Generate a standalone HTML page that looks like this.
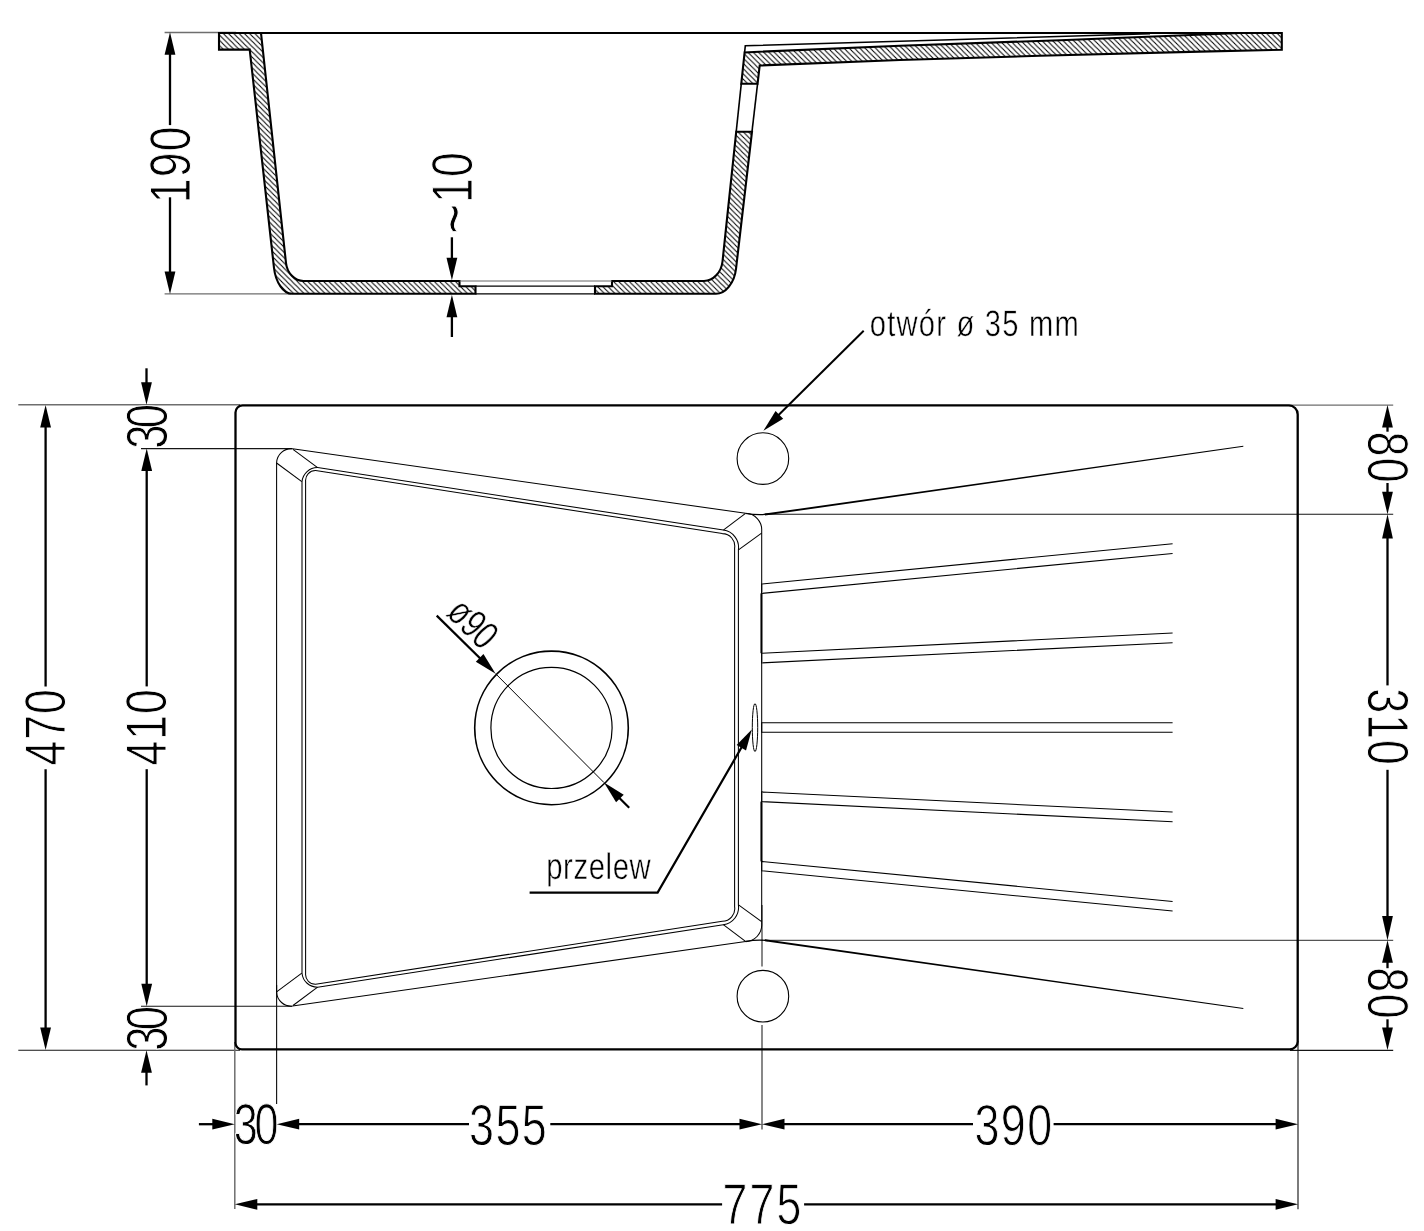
<!DOCTYPE html>
<html lang="pl">
<head>
<meta charset="utf-8">
<title>Rysunek techniczny zlewozmywaka</title>
<style>
html,body{margin:0;padding:0;background:#fff;}
body{width:1424px;height:1231px;overflow:hidden;}
svg{display:block;filter:grayscale(1);}
text{text-rendering:geometricPrecision;}
text.d{font-family:"Liberation Sans",sans-serif;font-kerning:none;fill:#000;stroke:#fff;stroke-width:0.95px;stroke-linejoin:round;}
text.s{font-family:"Liberation Sans",sans-serif;font-kerning:none;fill:#000;stroke:#fff;stroke-width:0.5px;stroke-linejoin:round;}
</style>
</head>
<body>
<svg width="1424" height="1231" viewBox="0 0 1424 1231">
<defs>
<pattern id="hatch" width="5.27" height="5.27" patternUnits="userSpaceOnUse">
<path d="M-1,-1 L6.27,6.27 M-1,4.27 L1,6.27 M4.27,-1 L6.27,1" stroke="#000" stroke-width="1.05" fill="none"/>
</pattern>
</defs>
<rect width="1424" height="1231" fill="#fff"/>
<g id="ext">
<line x1="18.30" y1="404.80" x2="240.00" y2="404.80" stroke="#6e6e6e" stroke-width="1.6" stroke-linecap="butt"/>
<line x1="18.30" y1="1050.20" x2="240.00" y2="1050.20" stroke="#151515" stroke-width="1.15" stroke-linecap="butt"/>
<line x1="141.00" y1="448.60" x2="292.00" y2="448.60" stroke="#151515" stroke-width="1.15" stroke-linecap="butt"/>
<line x1="141.00" y1="1006.20" x2="292.00" y2="1006.20" stroke="#151515" stroke-width="1.15" stroke-linecap="butt"/>
<line x1="234.80" y1="1042.00" x2="234.80" y2="1209.00" stroke="#6e6e6e" stroke-width="1.5" stroke-linecap="butt"/>
<line x1="276.60" y1="985.00" x2="276.60" y2="1104.00" stroke="#151515" stroke-width="1.15" stroke-linecap="butt"/>
<line x1="762.00" y1="905.00" x2="762.00" y2="966.40" stroke="#555" stroke-width="1.4" stroke-linecap="butt"/>
<line x1="762.00" y1="1024.90" x2="762.00" y2="1129.50" stroke="#555" stroke-width="1.4" stroke-linecap="butt"/>
<line x1="1298.00" y1="1041.00" x2="1298.00" y2="1209.30" stroke="#444" stroke-width="1.4" stroke-linecap="butt"/>
<line x1="1289.00" y1="405.10" x2="1393.20" y2="405.10" stroke="#6e6e6e" stroke-width="1.4" stroke-linecap="butt"/>
<line x1="1290.00" y1="1050.30" x2="1393.20" y2="1050.30" stroke="#151515" stroke-width="1.3" stroke-linecap="butt"/>
<line x1="764.00" y1="514.20" x2="1393.20" y2="514.20" stroke="#151515" stroke-width="1.1" stroke-linecap="butt"/>
<line x1="764.00" y1="940.30" x2="1393.20" y2="940.30" stroke="#555" stroke-width="1.3" stroke-linecap="butt"/>
</g>
<g id="labels">
<text class="d" font-size="57.49" letter-spacing="1.55" transform="translate(189.64 203.29) rotate(-90) scale(0.7750 1)">190</text>
<text class="d" font-size="57.63" transform="translate(471.54 233.81) rotate(-90) scale(0.7750 1)"><tspan font-size="66.12" x="0" y="4.81">~</tspan><tspan x="39.75" y="0" letter-spacing="1.64">10</tspan></text>
<text class="d" font-size="57.49" letter-spacing="1.37" transform="translate(65.04 765.62) rotate(-90) scale(0.7750 1)">470</text>
<text class="d" font-size="57.49" letter-spacing="1.37" transform="translate(166.44 765.62) rotate(-90) scale(0.7750 1)">410</text>
<text class="d" font-size="58.19" letter-spacing="-5.04" transform="translate(166.73 448.86) rotate(-90) scale(0.7500 1)">30</text>
<text class="d" font-size="58.19" letter-spacing="-5.04" transform="translate(166.73 1050.66) rotate(-90) scale(0.7500 1)">30</text>
<text class="d" font-size="57.49" letter-spacing="-4.44" transform="translate(233.86 1144.04) rotate(0) scale(0.7500 1)">30</text>
<text class="d" font-size="57.91" letter-spacing="1.88" transform="translate(468.99 1144.73) rotate(0) scale(0.7750 1)">355</text>
<text class="d" font-size="57.77" letter-spacing="1.91" transform="translate(974.49 1145.04) rotate(0) scale(0.7750 1)">390</text>
<text class="d" font-size="57.61" letter-spacing="2.82" transform="translate(722.51 1223.64) rotate(0) scale(0.7750 1)">775</text>
<text class="d" font-size="57.77" letter-spacing="1.80" transform="translate(1367.86 431.45) rotate(90) scale(0.7750 1)">80</text>
<text class="d" font-size="58.05" letter-spacing="0.97" transform="translate(1367.67 688.29) rotate(90) scale(0.7750 1)">310</text>
<text class="d" font-size="57.77" letter-spacing="1.80" transform="translate(1367.86 967.35) rotate(90) scale(0.7750 1)">80</text>
<text class="s" font-size="36.90" letter-spacing="1.55" transform="translate(871.00 336.30) rotate(0) scale(0.7900 1) translate(-1.55 0)">otwór ø 35 mm</text>
<text class="s" font-size="37.10" letter-spacing="0.76" transform="translate(548.10 879.30) rotate(0) scale(0.7900 1) translate(-2.39 0)">przelew</text>
<text class="s" font-size="40.00" letter-spacing="-0.46" transform="translate(445.40 614.82) rotate(45) scale(0.7700 1) translate(-0.86 0)">ø90</text>
</g>
<g id="section">
<line x1="164.60" y1="32.50" x2="236.00" y2="32.50" stroke="#6e6e6e" stroke-width="1.4" stroke-linecap="butt"/>
<line x1="164.60" y1="293.90" x2="291.00" y2="293.90" stroke="#6e6e6e" stroke-width="1.4" stroke-linecap="butt"/>
<path d="M219,33.0 L261,33.0 L286.0,263 C287.12,273.08 294.82,281.00 303.50,281.00 L459.5,281.0 L459.5,286.2 L475.5,286.2 L475.5,293.8 L292,293.8 C283.54,293.80 275.62,282.45 274.00,268.00 L249.7,49.6 L219,49.6 Z" fill="url(#hatch)" stroke="#000" stroke-width="2.1" stroke-linejoin="miter"/>
<path d="M595,293.8 L595,286.2 L612,286.2 L612,281.0 L704,281.0 C713.18,281.00 721.32,272.42 722.50,261.50 L736.21,131.7 L751.99,131.7 L736.0,269 C734.38,282.89 725.58,293.80 716.00,293.80 Z" fill="url(#hatch)" stroke="#000" stroke-width="2.1" />
<path d="M741.29,83.7 L744.60,52.4 L900,45.7 L1060,40.2 L1210,34.2 L1240,33.0 L1281.8,33.0 L1281.8,49.8 L1200,51.6 L1040,55.8 L900,60 L759.7,65.5 L757.58,83.7 Z" fill="url(#hatch)" stroke="#000" stroke-width="2.1" />
<line x1="741.29" y1="83.70" x2="736.21" y2="131.70" stroke="#000" stroke-width="1.6" stroke-linecap="butt"/>
<line x1="757.58" y1="83.70" x2="751.99" y2="131.70" stroke="#000" stroke-width="1.6" stroke-linecap="butt"/>
<path d="M744.60,52.4 L745.3,45.8 L900,41.3 L1150,33.8" fill="none" stroke="#000" stroke-width="1.6" />
<line x1="219.00" y1="33.00" x2="1281.80" y2="33.00" stroke="#000" stroke-width="2.1" stroke-linecap="butt"/>
<line x1="459.50" y1="281.00" x2="612.00" y2="281.00" stroke="#666" stroke-width="1.0" stroke-linecap="butt"/>
<line x1="475.50" y1="286.20" x2="595.00" y2="286.20" stroke="#000" stroke-width="1.2" stroke-linecap="butt"/>
<line x1="475.50" y1="293.80" x2="595.00" y2="293.80" stroke="#000" stroke-width="1.2" stroke-linecap="butt"/>
<line x1="170.00" y1="40.00" x2="170.00" y2="125.10" stroke="#000" stroke-width="2.3" stroke-linecap="butt"/>
<line x1="170.00" y1="197.30" x2="170.00" y2="286.00" stroke="#000" stroke-width="2.3" stroke-linecap="butt"/>
<polygon points="170.00,32.30 175.40,54.80 164.60,54.80" fill="#000"/>
<polygon points="170.00,294.00 164.60,271.50 175.40,271.50" fill="#000"/>
<line x1="451.90" y1="237.30" x2="451.90" y2="270.00" stroke="#000" stroke-width="2.3" stroke-linecap="butt"/>
<polygon points="451.90,280.20 446.50,257.70 457.30,257.70" fill="#000"/>
<line x1="451.90" y1="305.00" x2="451.90" y2="337.00" stroke="#000" stroke-width="2.3" stroke-linecap="butt"/>
<polygon points="451.90,294.80 457.30,317.30 446.50,317.30" fill="#000"/>
</g>
<g id="plan">
<path d="M242.5,405.4 L1288.7,405.4 A9.0,9.0 0 0 1 1297.7,414.4 L1297.7,1041.4 A8.0,8.0 0 0 1 1289.7,1049.4 L242.0,1049.4 A6.5,6.5 0 0 1 235.5,1042.9 L235.5,412.4 A7.0,7.0 0 0 1 242.5,405.4 Z" fill="none" stroke="#000" stroke-width="2.3" />
<path d="M276.6,727.4 L276.6,462.7 A14.6,14.6 0 0 1 292.5,448.7 L745.6,513.3 A16.5,16.5 0 0 1 761.7,530.6 L761.7,924.1999999999999 A16.5,16.5 0 0 1 745.6,941.5 L292.5,1006.0999999999999 A14.6,14.6 0 0 1 276.6,992.0999999999999 Z" fill="none" stroke="#000" stroke-width="1.05" />
<path d="M302,727.4 L302,481.6 A15.5,15.5 0 0 1 317.6,467.6 L723.3,530.1 A17.5,17.5 0 0 1 738.4,549.9 L738.4,904.9 A17.5,17.5 0 0 1 723.3,924.6999999999999 L317.6,987.1999999999999 A15.5,15.5 0 0 1 302,973.1999999999999 Z" fill="none" stroke="#000" stroke-width="1.05" />
<path d="M305.6,727.4 L305.6,481.0 A9.8,9.8 0 0 1 315.6,470.5 L722.3,533.6 A12.5,12.5 0 0 1 734.6,548 L734.6,906.8 A12.5,12.5 0 0 1 722.3,921.1999999999999 L315.6,984.3 A9.8,9.8 0 0 1 305.6,973.8 Z" fill="none" stroke="#000" stroke-width="1.05" />
<line x1="293.00" y1="449.30" x2="317.60" y2="467.60" stroke="#000" stroke-width="1.05" stroke-linecap="butt"/>
<line x1="293.00" y1="1005.50" x2="317.60" y2="987.20" stroke="#000" stroke-width="1.05" stroke-linecap="butt"/>
<line x1="276.60" y1="463.00" x2="301.80" y2="481.60" stroke="#000" stroke-width="1.05" stroke-linecap="butt"/>
<line x1="276.60" y1="991.80" x2="301.80" y2="973.20" stroke="#000" stroke-width="1.05" stroke-linecap="butt"/>
<line x1="745.20" y1="513.70" x2="723.30" y2="530.10" stroke="#000" stroke-width="1.05" stroke-linecap="butt"/>
<line x1="745.20" y1="941.10" x2="723.30" y2="924.70" stroke="#000" stroke-width="1.05" stroke-linecap="butt"/>
<line x1="761.60" y1="533.10" x2="738.50" y2="549.90" stroke="#000" stroke-width="1.05" stroke-linecap="butt"/>
<line x1="761.60" y1="921.70" x2="738.50" y2="904.90" stroke="#000" stroke-width="1.05" stroke-linecap="butt"/>
<path d="M745.6,513.30 Q757,515.40 768,514.20" fill="none" stroke="#000" stroke-width="1.3" />
<polygon points="765,513.60 1243.3,445.80 1243.3,446.80 765,515.60" fill="#000"/>
<path d="M745.6,941.50 Q757,939.40 768,940.60" fill="none" stroke="#000" stroke-width="1.3" />
<polygon points="765,941.20 1243.3,1009.00 1243.3,1008.00 765,939.20" fill="#000"/>
<path d="M1172.6,543.7 L761.7,584.0 L761.7,593.4 L1172.6,553.4" fill="none" stroke="#000" stroke-width="1.05" />
<path d="M1172.6,633.0 L761.7,653.2 L761.7,662.9 L1172.6,642.7" fill="none" stroke="#000" stroke-width="1.05" />
<path d="M1172.6,722.7 L761.7,722.7 L761.7,732.2 L1172.6,732.2" fill="none" stroke="#000" stroke-width="1.05" />
<path d="M1172.6,812.1 L761.7,791.9 L761.7,801.6 L1172.6,821.8" fill="none" stroke="#000" stroke-width="1.05" />
<path d="M1172.6,901.4 L761.7,861.4 L761.7,870.8 L1172.6,911.1" fill="none" stroke="#000" stroke-width="1.05" />
<line x1="761.40" y1="593.40" x2="761.40" y2="653.20" stroke="#000" stroke-width="1.9" stroke-linecap="butt"/>
<line x1="761.40" y1="801.60" x2="761.40" y2="861.40" stroke="#000" stroke-width="1.9" stroke-linecap="butt"/>
<circle cx="551.5" cy="727.9" r="76.8" fill="none" stroke="#000" stroke-width="1.6"/>
<circle cx="551.5" cy="727.9" r="60.6" fill="none" stroke="#000" stroke-width="1.2"/>
<line x1="495.60" y1="673.70" x2="604.00" y2="782.60" stroke="#000" stroke-width="1.0" stroke-linecap="butt"/>
<line x1="436.70" y1="615.60" x2="489.94" y2="668.04" stroke="#000" stroke-width="2.2" stroke-linecap="butt"/>
<polygon points="495.60,673.70 475.83,661.68 483.44,654.01" fill="#000"/>
<line x1="609.66" y1="788.26" x2="629.20" y2="807.80" stroke="#000" stroke-width="2.2" stroke-linecap="butt"/>
<polygon points="604.00,782.60 623.73,794.69 616.09,802.33" fill="#000"/>
<ellipse cx="755" cy="727.6" rx="2.7" ry="24" fill="none" stroke="#000" stroke-width="1.0"/>
<circle cx="762.9" cy="458.6" r="25.8" fill="none" stroke="#000" stroke-width="1.1"/>
<circle cx="762.9" cy="996.2" r="25.8" fill="none" stroke="#000" stroke-width="1.1"/>
<line x1="863.70" y1="330.70" x2="770.00" y2="423.50" stroke="#000" stroke-width="2.0" stroke-linecap="butt"/>
<polygon points="763.40,430.80 775.56,411.11 783.17,418.78" fill="#000"/>
<path d="M529.6,892.6 L657.6,892.6 L746.5,738.8" fill="none" stroke="#000" stroke-width="2.2" stroke-linejoin="miter"/>
<polygon points="751.80,729.50 746.01,750.40 736.65,745.01" fill="#000"/>
</g>
<g id="dims">
<line x1="45.60" y1="412.00" x2="45.60" y2="686.40" stroke="#000" stroke-width="2.3" stroke-linecap="butt"/>
<line x1="45.60" y1="769.20" x2="45.60" y2="1043.00" stroke="#000" stroke-width="2.3" stroke-linecap="butt"/>
<polygon points="45.60,404.90 51.00,427.40 40.20,427.40" fill="#000"/>
<polygon points="45.60,1050.00 40.20,1027.50 51.00,1027.50" fill="#000"/>
<line x1="146.70" y1="456.00" x2="146.70" y2="686.40" stroke="#000" stroke-width="2.3" stroke-linecap="butt"/>
<line x1="146.70" y1="769.20" x2="146.70" y2="999.00" stroke="#000" stroke-width="2.3" stroke-linecap="butt"/>
<polygon points="146.70,448.60 152.10,471.10 141.30,471.10" fill="#000"/>
<polygon points="146.70,1006.20 141.30,983.70 152.10,983.70" fill="#000"/>
<line x1="146.50" y1="368.30" x2="146.50" y2="395.00" stroke="#000" stroke-width="2.3" stroke-linecap="butt"/>
<polygon points="146.50,404.70 141.10,382.20 151.90,382.20" fill="#000"/>
<line x1="146.50" y1="1060.00" x2="146.50" y2="1085.40" stroke="#000" stroke-width="2.3" stroke-linecap="butt"/>
<polygon points="146.50,1050.30 151.90,1072.80 141.10,1072.80" fill="#000"/>
<polygon points="1387.50,405.00 1392.90,427.50 1382.10,427.50" fill="#000"/>
<line x1="1387.50" y1="412.00" x2="1387.50" y2="431.70" stroke="#000" stroke-width="2.3" stroke-linecap="butt"/>
<line x1="1387.50" y1="483.00" x2="1387.50" y2="505.00" stroke="#000" stroke-width="2.3" stroke-linecap="butt"/>
<polygon points="1387.50,514.30 1382.10,491.80 1392.90,491.80" fill="#000"/>
<polygon points="1387.50,514.30 1392.90,538.60 1382.10,538.60" fill="#000"/>
<line x1="1387.50" y1="522.00" x2="1387.50" y2="685.40" stroke="#000" stroke-width="2.3" stroke-linecap="butt"/>
<line x1="1387.50" y1="769.80" x2="1387.50" y2="932.00" stroke="#000" stroke-width="2.3" stroke-linecap="butt"/>
<polygon points="1387.50,940.30 1382.10,916.00 1392.90,916.00" fill="#000"/>
<polygon points="1387.50,940.30 1392.90,962.80 1382.10,962.80" fill="#000"/>
<line x1="1387.50" y1="948.00" x2="1387.50" y2="968.20" stroke="#000" stroke-width="2.3" stroke-linecap="butt"/>
<line x1="1387.50" y1="1019.30" x2="1387.50" y2="1042.00" stroke="#000" stroke-width="2.3" stroke-linecap="butt"/>
<polygon points="1387.50,1050.00 1382.10,1027.50 1392.90,1027.50" fill="#000"/>
<line x1="198.90" y1="1124.20" x2="225.00" y2="1124.20" stroke="#000" stroke-width="2.3" stroke-linecap="butt"/>
<polygon points="234.80,1124.20 212.30,1129.60 212.30,1118.80" fill="#000"/>
<polygon points="276.70,1124.20 299.20,1118.80 299.20,1129.60" fill="#000"/>
<line x1="285.00" y1="1124.20" x2="469.00" y2="1124.20" stroke="#000" stroke-width="2.3" stroke-linecap="butt"/>
<line x1="550.30" y1="1124.20" x2="753.00" y2="1124.20" stroke="#000" stroke-width="2.3" stroke-linecap="butt"/>
<polygon points="762.00,1124.20 739.50,1129.60 739.50,1118.80" fill="#000"/>
<polygon points="762.00,1124.20 784.50,1118.80 784.50,1129.60" fill="#000"/>
<line x1="771.00" y1="1124.20" x2="973.00" y2="1124.20" stroke="#000" stroke-width="2.3" stroke-linecap="butt"/>
<line x1="1053.60" y1="1124.20" x2="1290.00" y2="1124.20" stroke="#000" stroke-width="2.3" stroke-linecap="butt"/>
<polygon points="1298.10,1124.20 1275.60,1129.60 1275.60,1118.80" fill="#000"/>
<polygon points="234.80,1204.30 257.30,1198.90 257.30,1209.70" fill="#000"/>
<line x1="243.00" y1="1204.30" x2="722.10" y2="1204.30" stroke="#000" stroke-width="2.3" stroke-linecap="butt"/>
<line x1="804.10" y1="1204.30" x2="1290.00" y2="1204.30" stroke="#000" stroke-width="2.3" stroke-linecap="butt"/>
<polygon points="1298.10,1204.30 1275.60,1209.70 1275.60,1198.90" fill="#000"/>
</g>
</svg>
</body>
</html>
